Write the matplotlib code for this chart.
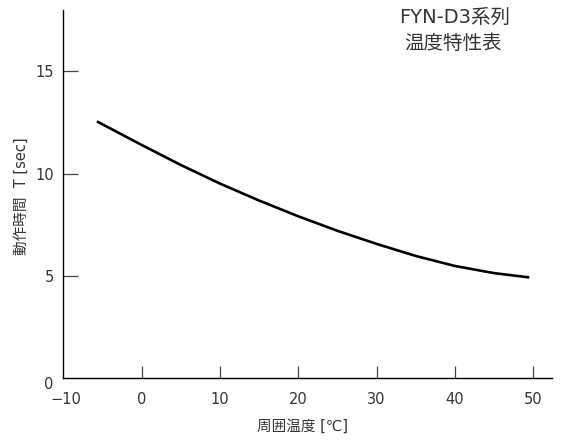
import matplotlib
matplotlib.use("Agg")
import matplotlib.pyplot as plt
import matplotlib.transforms as mtransforms

plt.rcParams['font.family'] = ['DejaVu Sans', 'Noto Sans CJK JP']

temps = [-5.7, 0, 5, 10, 15, 20, 25, 30, 35, 40, 45, 49.5]
times = [12.55, 11.40, 10.42, 9.51, 8.68, 7.91, 7.20, 6.56, 5.97, 5.48, 5.13, 4.92]
xticks = [-10, 0, 10, 20, 30, 40, 50]
yticks = [0, 5, 10, 15]
xlabel = "周囲温度 [℃]"
ylabel = "動作時間  T [sec]"
title_lines = ["FYN-D3系列", "温度特性表"]

fig = plt.figure(figsize=(5.61, 4.40), dpi=100)
ax = fig.add_axes([63.3/561, 62/440, (552-63.3)/561, (378-10)/440])

ax.plot(temps, times, color='black', lw=1.9, solid_capstyle='butt', solid_joinstyle='round')

ax.set_xlim(-10, 52.4)
ax.set_ylim(0, 18)
ax.set_xticks(xticks)
ax.set_yticks(yticks)
ax.set_xticklabels([str(v).replace('-', '−') for v in xticks])
ax.set_yticklabels([str(v) for v in yticks])

for s in ['top', 'right']:
    ax.spines[s].set_visible(False)
for s in ['left', 'bottom']:
    ax.spines[s].set_color('black')
    ax.spines[s].set_linewidth(1.0)

ax.tick_params(axis='x', direction='in', length=9, width=0.9, color='#444444',
               pad=10, labelsize=10.5, labelcolor='#333333')
ax.tick_params(axis='y', direction='in', length=11, width=0.9, color='#444444',
               pad=7, labelsize=10.5, labelcolor='#333333')

# hide tick marks at axis corner
ax.xaxis.get_major_ticks()[0].tick1line.set_visible(False)
ax.yaxis.get_major_ticks()[0].tick1line.set_visible(False)

# shift corner labels slightly
lbl0 = ax.yaxis.get_major_ticks()[0].label1
lbl0.set_transform(lbl0.get_transform() + mtransforms.ScaledTranslation(0, -5/100, fig.dpi_scale_trans))
lblx0 = ax.xaxis.get_major_ticks()[0].label1
lblx0.set_transform(lblx0.get_transform() + mtransforms.ScaledTranslation(3/100, 0, fig.dpi_scale_trans))

ax.set_xlabel(xlabel, fontsize=10.5, color='#333333')
ax.xaxis.set_label_coords((302.5 - 63.3) / 488.7, (378 - 419) / 368)
ax.xaxis.label.set_va('top')
ax.set_ylabel(ylabel, fontsize=10.5, color='#333333')
ax.yaxis.set_label_coords((29 - 63.3) / 488.7, (378 - 196) / 368)

fig.text(399/561, 1 - 17/440, title_lines[0], fontsize=14, color='#333333', ha='left', va='center')
fig.text(404/561, 1 - 43/440, title_lines[1], fontsize=14, color='#333333', ha='left', va='center')

fig.savefig('out.png', dpi=100)
